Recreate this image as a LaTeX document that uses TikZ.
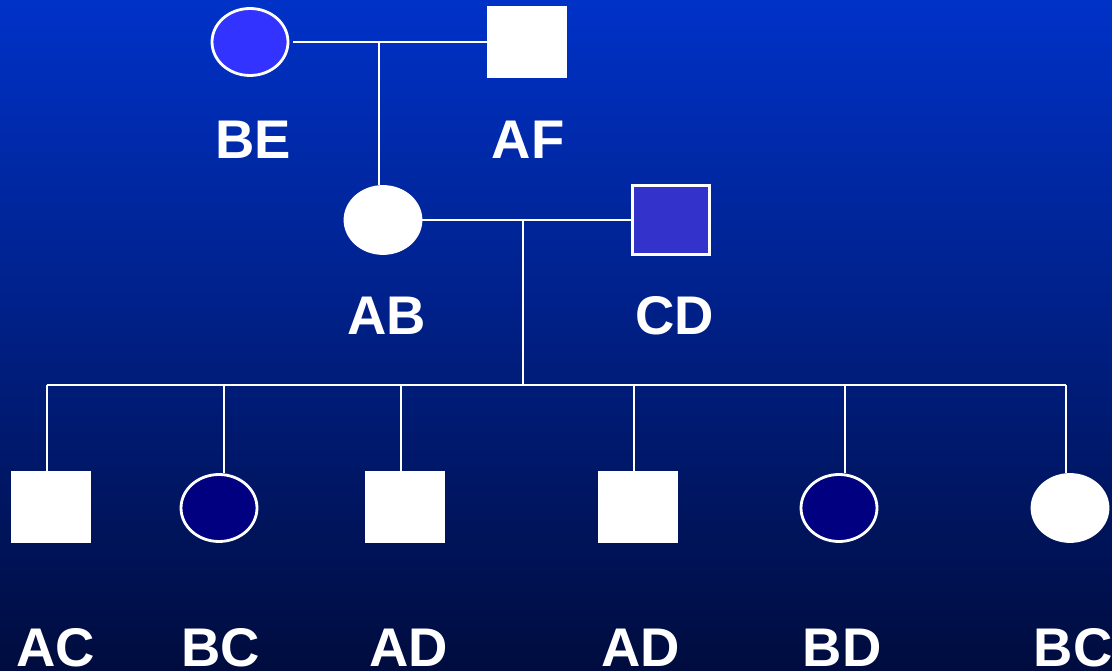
\documentclass[tikz,border=0pt]{standalone}
\usepackage{fontspec}
\setmainfont{Liberation Sans}
\usepackage{tikz}
\usetikzlibrary{positioning, shapes.geometric}
\definecolor{SkyTop}{RGB}{0,50,200}
\definecolor{SkyBottom}{RGB}{0,12,62}
\definecolor{CarrierBlue}{RGB}{51,51,255}
\definecolor{MateBlue}{RGB}{51,51,204}
\definecolor{Navy}{RGB}{0,0,128}

\begin{document}
\begin{tikzpicture}[
  x=0.02cm, y=-0.02cm,
  line width=1.4pt,
  male/.style={
    rectangle,
    minimum width=1.54cm, minimum height=1.38cm,
    fill=white, draw=white, line width=1.2pt, inner sep=0pt,
  },
  female/.style={
    ellipse,
    minimum width=1.52cm, minimum height=1.34cm,
    fill=white, draw=white, line width=1.6pt, inner sep=0pt,
  },
  geno/.style={
    text=white,
    font=\fontsize{31}{36}\selectfont\bfseries,
    inner sep=0pt,
  },
  link/.style={draw=white, line width=1.4pt},
]
  % backdrop
  \shade[top color=SkyTop, bottom color=SkyBottom] (0,0) rectangle (1112,671);
  \useasboundingbox (0,0) rectangle (1112,671);

  % first generation
  \node[female, fill=CarrierBlue] (BE) at (250,42) {};
  \node[male] (AF) at (527,42) {};
  \node[geno] at (253,140) {BE};
  \node[geno] at (528,140) {AF};

  % second generation
  \node[female] (AB) at (383,220) {};
  \node[male, fill=MateBlue] (CD) at (671,220) {};
  \node[geno] at (387,316) {AB};
  \node[geno] at (675,316) {CD};

  % children
  \node[male] (c1) at (51,507) {};
  \node[female, fill=Navy] (c2) at (219,508) {};
  \node[male] (c3) at (405,507) {};
  \node[male] (c4) at (638,507) {};
  \node[female, fill=Navy] (c5) at (839,508) {};
  \node[female] (c6) at (1070,508) {};
  \node[geno] at (56,648) {AC};
  \node[geno] at (221,648) {BC};
  \node[geno] at (409,648) {AD};
  \node[geno] at (641,648) {AD};
  \node[geno] at (842,648) {BD};
  \node[geno] at (1073,648) {BC};

  % matings and descent lines
  \coordinate (m1) at (379,43);
  \coordinate (m2) at (523,220);
  \coordinate (bar) at (523,385);
  \coordinate (barL) at (47,385);
  \coordinate (barR) at (1066,385);
  \coordinate (d2) at (224,385);
  \coordinate (d3) at (401,385);
  \coordinate (d4) at (634,385);
  \coordinate (d5) at (845,385);
  \draw[link] (BE.east) ++(4,0) -- (AF.west);
  \draw[link] (m1) -- (m1 |- AB.north);
  \draw[link] (AB.east) -- (CD.west);
  \draw[link] (m2) -- (bar);
  \draw[link] (barL) -- (barR);
  \draw[link] (barL) -- (barL |- c1.north);
  \draw[link] (d2) -- (d2 |- c2.north);
  \draw[link] (d3) -- (d3 |- c3.north);
  \draw[link] (d4) -- (d4 |- c4.north);
  \draw[link] (d5) -- (d5 |- c5.north);
  \draw[link] (barR) -- (barR |- c6.north);
\end{tikzpicture}
\end{document}
